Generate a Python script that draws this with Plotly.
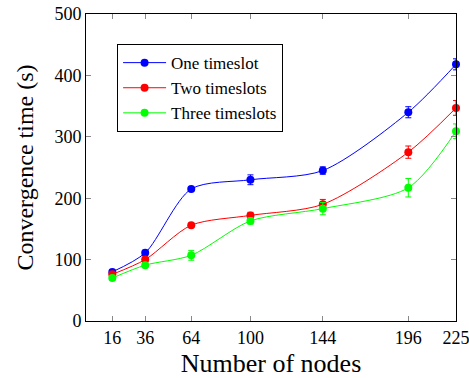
import plotly.graph_objects as go

nodes = [16, 36, 64, 100, 144, 196, 225]
one_ts = [80, 111, 215, 230, 245, 340, 418]
one_err = [3, 4, 3, 8, 6, 9, 9]
two_ts = [76, 100, 156, 172, 190, 275, 347]
two_err = [3, 4, 3, 5, 8, 10, 12]
three_ts = [70, 91, 107, 163, 183, 217, 309]
three_err = [3, 3, 8, 5, 10, 15, 12]
y_ticks = [0, 100, 200, 300, 400, 500]

series = [
    ("One timeslot", one_ts, one_err, "#0000ff"),
    ("Two timeslots", two_ts, two_err, "#ff0000"),
    ("Three timeslots", three_ts, three_err, "#00ff00"),
]

FONT = "Liberation Serif, Times New Roman, serif"

fig = go.Figure()
for name, ys, errs, col in series:
    fig.add_trace(go.Scatter(
        x=nodes, y=ys, name=name, mode="lines+markers",
        line=dict(color=col, width=1, shape="spline", smoothing=0.8),
        marker=dict(color=col, size=8),
        error_y=dict(type="data", array=errs, visible=True, color=col, thickness=1, width=3),
        cliponaxis=False,
    ))

axis_common = dict(
    showline=True, linecolor="#000000", linewidth=1, mirror="ticks",
    ticks="inside", tickcolor="#888888", ticklen=5, tickwidth=1,
    showgrid=False, zeroline=False, automargin=False,
    ticklabeloverflow="allow",
    tickfont=dict(family=FONT, size=18, color="#000000"),
)

fig.update_layout(
    width=469, height=378,
    margin=dict(l=86, r=13, t=14, b=57),
    paper_bgcolor="white", plot_bgcolor="white",
    font=dict(family=FONT, color="#000000"),
    showlegend=True,
    legend=dict(
        x=0.084, y=0.902, xanchor="left", yanchor="top",
        bgcolor="white", bordercolor="#000000", borderwidth=1,
        font=dict(family=FONT, size=17, color="#000000"),
        tracegroupgap=0, itemwidth=43,
    ),
    xaxis=dict(
        range=[0, 225], tickvals=nodes, ticktext=[str(n) for n in nodes],
        title=dict(text="Number of nodes", font=dict(family=FONT, size=26), standoff=7),
        **axis_common,
    ),
    yaxis=dict(
        range=[0, 500], tickvals=y_ticks,
        title=dict(text="Convergence time (s)", font=dict(family=FONT, size=24), standoff=14),
        **axis_common,
    ),
)

fig.write_html("out.html")
